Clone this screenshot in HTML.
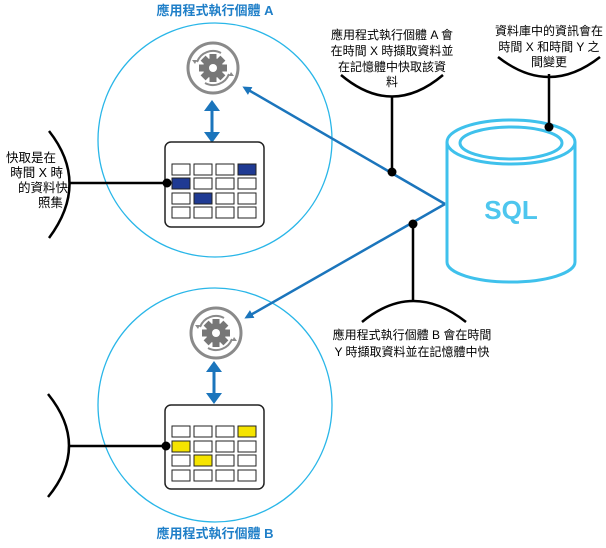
<!DOCTYPE html>
<html><head><meta charset="utf-8"><style>
html,body{margin:0;padding:0;background:#fff}
svg{display:block}
text{font-family:"Liberation Sans","Noto Sans CJK TC",sans-serif}
</style></head><body>
<svg width="606" height="548" viewBox="0 0 606 548" xmlns="http://www.w3.org/2000/svg">
<defs>
<marker id="ah" markerWidth="9" markerHeight="9" refX="6" refY="4.5" orient="auto" markerUnits="userSpaceOnUse">
<path d="M0,0 L9,4.5 L0,9 Z" fill="#1b75bc"/></marker>
<g id="gear">
<circle r="25" fill="none" stroke="#8a8a8a" stroke-width="3"/>
<path d="M-16,-6 A17,17 0 0 1 8,-15" fill="none" stroke="#8a8a8a" stroke-width="2"/>
<path d="M16,6 A17,17 0 0 1 -8,15" fill="none" stroke="#8a8a8a" stroke-width="2"/>
<path d="M-18,-4 l-3,-4 l5,0 z M18,4 l3,4 l-5,0 z" fill="#8a8a8a"/>
<g fill="#777">
<circle r="10"/>
<rect x="-3.5" y="-14" width="7" height="28"/>
<rect x="-3.5" y="-14" width="7" height="28" transform="rotate(45)"/>
<rect x="-3.5" y="-14" width="7" height="28" transform="rotate(90)"/>
<rect x="-3.5" y="-14" width="7" height="28" transform="rotate(135)"/>
</g>
<circle r="4" fill="#fff"/>
</g>
</defs>

<circle cx="215" cy="140" r="117" fill="none" stroke="#29b6e8" stroke-width="1.3"/>
<circle cx="215" cy="405" r="117" fill="none" stroke="#29b6e8" stroke-width="1.3"/>
<text x="215" y="15" font-size="13" fill="#1f7fc8" text-anchor="middle" font-weight="bold">應用程式執行個體 A</text>
<text x="215" y="538" font-size="13" fill="#1f7fc8" text-anchor="middle" font-weight="bold">應用程式執行個體 B</text>

<use href="#gear" x="213" y="68"/>
<use href="#gear" x="216" y="333"/>

<g stroke="#1b75bc" stroke-width="3">
<line x1="212" y1="108" x2="212" y2="135"/>
<line x1="214" y1="369" x2="214" y2="396"/>
</g>
<g fill="#1b75bc">
<path d="M204,111 L212,100 L220,111 Z M204,132 L212,143 L220,132 Z"/>
<path d="M206,372 L214,361 L222,372 Z M206,393 L214,404 L222,393 Z"/>
</g>

<rect x="165" y="142" width="99" height="85" rx="6" fill="#fff" stroke="#222" stroke-width="1.5"/>
<rect x="165" y="405" width="99" height="84" rx="6" fill="#fff" stroke="#222" stroke-width="1.5"/>
<g stroke="#222" stroke-width="1" fill="#fff">
<rect x="172" y="164" width="18" height="11"/><rect x="194" y="164" width="18" height="11"/><rect x="216" y="164" width="18" height="11"/><rect x="238" y="164" width="18" height="11" fill="#1f3a93"/>
<rect x="172" y="178" width="18" height="11" fill="#1f3a93"/><rect x="194" y="178" width="18" height="11"/><rect x="216" y="178" width="18" height="11"/><rect x="238" y="178" width="18" height="11"/>
<rect x="172" y="193" width="18" height="11"/><rect x="194" y="193" width="18" height="11" fill="#1f3a93"/><rect x="216" y="193" width="18" height="11"/><rect x="238" y="193" width="18" height="11"/>
<rect x="172" y="207" width="18" height="11"/><rect x="194" y="207" width="18" height="11"/><rect x="216" y="207" width="18" height="11"/><rect x="238" y="207" width="18" height="11"/>
<rect x="172" y="426" width="18" height="11"/><rect x="194" y="426" width="18" height="11"/><rect x="216" y="426" width="18" height="11"/><rect x="238" y="426" width="18" height="11" fill="#f5e400"/>
<rect x="172" y="441" width="18" height="11" fill="#f5e400"/><rect x="194" y="441" width="18" height="11"/><rect x="216" y="441" width="18" height="11"/><rect x="238" y="441" width="18" height="11"/>
<rect x="172" y="455" width="18" height="11"/><rect x="194" y="455" width="18" height="11" fill="#f5e400"/><rect x="216" y="455" width="18" height="11"/><rect x="238" y="455" width="18" height="11"/>
<rect x="172" y="470" width="18" height="11"/><rect x="194" y="470" width="18" height="11"/><rect x="216" y="470" width="18" height="11"/><rect x="238" y="470" width="18" height="11"/>
</g>

<g fill="none" stroke="#3fc1ec" stroke-width="3">
<path d="M447,142 L447,262 A64,20 0 0 0 575,262 L575,142"/>
<ellipse cx="511" cy="142" rx="64" ry="22"/>
<ellipse cx="511" cy="143" rx="51" ry="16"/>
</g>
<text x="511" y="219" font-size="26" font-weight="bold" fill="#4ec6ee" text-anchor="middle">SQL</text>

<g stroke="#1b75bc" stroke-width="2.5" fill="none">
<line x1="445" y1="204" x2="245" y2="88" marker-end="url(#ah)"/>
<line x1="445" y1="204" x2="247" y2="317" marker-end="url(#ah)"/>
</g>

<g stroke="#000" stroke-width="2.5" fill="none">
<line x1="392" y1="97" x2="392" y2="172"/>
<path d="M341,75 Q392,118 443,75"/>
<line x1="549" y1="74" x2="549" y2="127"/>
<path d="M498,57 Q549,97 600,57"/>
<line x1="413" y1="224" x2="413" y2="302"/>
<path d="M362,322 Q413,280 466,322"/>
<path d="M49,131 Q90,183 49,238"/>
<line x1="70" y1="183" x2="167" y2="183"/>
<path d="M48,394 Q90,446 48,497"/>
<line x1="70" y1="446" x2="166" y2="446"/>
</g>
<g fill="#000">
<circle cx="392" cy="172" r="4.5"/>
<circle cx="549" cy="127" r="4.5"/>
<circle cx="413" cy="224" r="4.5"/>
<circle cx="167" cy="183" r="4.5"/>
<circle cx="166" cy="446" r="4.5"/>
</g>

<g font-size="12" fill="#000" text-anchor="middle">
<text x="392" y="39">應用程式執行個體 A 會</text>
<text x="392" y="55">在時間 X 時擷取資料並</text>
<text x="392" y="71">在記憶體中快取該資</text>
<text x="392" y="86">料</text>
<text x="549" y="35">資料庫中的資訊會在</text>
<text x="549" y="51">時間 X 和時間 Y 之</text>
<text x="549" y="66">間變更</text>
<text x="412" y="339">應用程式執行個體 B 會在時間</text>
<text x="412" y="356">Y 時擷取資料並在記憶體中快</text>
</g>
<g font-size="12.5" fill="#000" text-anchor="end">
<text x="56" y="162">快取是在</text>
<text x="63" y="177">時間 X 時</text>
<text x="68" y="192">的資料快</text>
<text x="63" y="207">照集</text>
</g>
</svg>
</body></html>
